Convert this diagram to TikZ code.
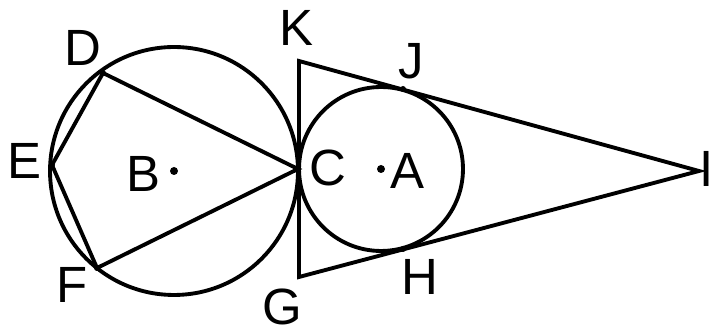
\documentclass[tikz,border=0pt]{standalone}
\usepackage{fontspec}
\setmainfont{Liberation Sans}
\usetikzlibrary{positioning}

\tikzset{
  lbl/.style={font=\fontsize{29}{30}\selectfont, inner sep=0pt},
  geo/.style={line width=2.2pt},
  dotpt/.style={fill=black},
}

\begin{document}
\begin{tikzpicture}[x=0.02cm, y=-0.02cm]
  % Frame
  \useasboundingbox (0,0) rectangle (713,333);

  % Points
  \coordinate (B) at (174,171);
  \coordinate (A) at (381,169);
  \coordinate (C) at (298,169);
  \coordinate (D) at (103,73);
  \coordinate (E) at (52,165);
  \coordinate (F) at (97,268);
  \coordinate (K) at (299,61);
  \coordinate (G) at (299,277);
  \coordinate (I) at (699,171);
  \coordinate (J) at (403,89);
  \coordinate (H) at (403,249);

  % Circles
  \draw[geo] (B) circle[radius=2.48cm];
  \draw[geo] (A) circle[radius=1.64cm];

  % Quadrilateral in circle B
  \draw[geo] (D) -- (E) -- (F) -- (C) -- cycle;

  % Triangle round circle A
  \draw[geo] (K) -- (G) -- (I) -- cycle;

  % Dots
  \fill[dotpt] (B) circle[radius=0.08cm];
  \fill[dotpt] (A) circle[radius=0.08cm];
  \foreach \p in {C,D,E,F,J,H}
    \fill[dotpt] (\p) circle[radius=0.06cm];

  % Labels
  \node[lbl] (lK) at (296,28) {K};
  \node[lbl] (lJ) at (411,61) {J};
  \node[lbl] (lC) at (328,168) {C};
  \node[lbl] (lA) at (407,171) {A};
  \node[lbl] (lH) at (420,277) {H};
  \node[lbl] (lG) at (282,307) {G};
  \node[lbl] (lD) at (83,48) {D};
  \node[lbl] (lE) at (24,161) {E};
  \node[lbl] (lB) at (143,174) {B};
  \node[lbl] (lF) at (72,285) {F};
  \node[lbl] (lI) at (707,169) {I};
\end{tikzpicture}
\end{document}
